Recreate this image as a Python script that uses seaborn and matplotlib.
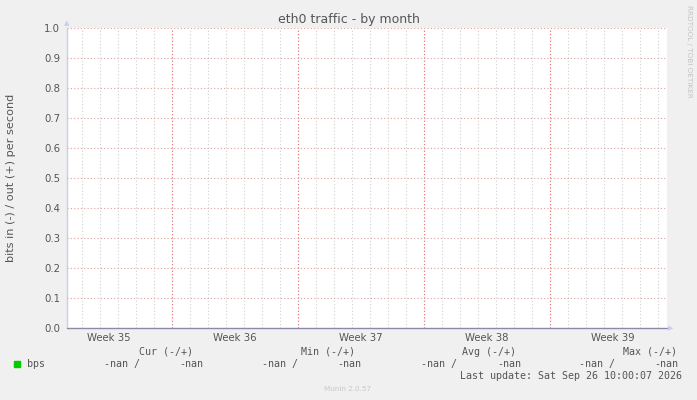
import numpy as np
import pandas as pd
import seaborn as sns
import matplotlib
matplotlib.use("Agg")
import matplotlib.pyplot as plt

# 数据 (全部为 nan)
days = list(range(0, 34))
bps_in = [np.nan] * len(days)
bps_out = [np.nan] * len(days)

week_labels = ["Week 35", "Week 36", "Week 37", "Week 38", "Week 39"]
week_centers = [2.333, 9.333, 16.333, 23.333, 30.333]
week_starts = [5.833, 12.833, 19.833, 26.833]
y_ticks = [0.0, 0.1, 0.2, 0.3, 0.4, 0.5, 0.6, 0.7, 0.8, 0.9, 1.0]

legend_cols = ["Cur (-/+)", "Min (-/+)", "Avg (-/+)", "Max (-/+)"]
legend_vals = ["-nan /", "-nan", "-nan /", "-nan", "-nan /", "-nan", "-nan /", "-nan"]
last_update = "Last update: Sat Sep 26 10:00:07 2026"

df = pd.DataFrame({"day": days, "in": bps_in, "out": bps_out})

sns.set_style("white")
plt.rcParams['font.family'] = ['DejaVu Sans']

W, H = 697, 400
fig = plt.figure(figsize=(W / 100, H / 100), dpi=100, facecolor="#f0f0f0")
ax = fig.add_axes([67 / W, (H - 328) / H, 600 / W, 300 / H])
ax.set_facecolor("white")

# 画数据 (nan, 不可见)
sns.lineplot(data=df, x="day", y="out", ax=ax, color="#00cc00", linewidth=1)
sns.lineplot(data=df, x="day", y="in", ax=ax, color="#00cc00", linewidth=1)
ax.set_xlabel("")
ax.set_ylabel("")

ax.set_xlim(0, 600 / 18)
ax.set_ylim(0, 1.0)

# 网格
minor_days = [d + 0.833 for d in range(0, 34) if d + 0.833 < 600 / 18]
for d in minor_days:
    ax.axvline(d, color="#d0d0d0", linestyle=(0, (1, 2)), linewidth=0.8, zorder=1)
for d in week_starts:
    ax.axvline(d, color="#f07070", linestyle=(0, (1, 2)), linewidth=0.8, zorder=2)
for y in y_ticks[1:]:
    ax.axhline(y, color="#e0a0a0", linestyle=(0, (1, 2)), linewidth=0.8, zorder=2)
ax.axhline(0, color="#8a8aa8", linewidth=1.0, zorder=3, clip_on=False)

ax.set_xticks(week_centers)
ax.set_xticklabels(week_labels)
ax.set_yticks(y_ticks)
ax.set_yticklabels([f"{v:.1f}" for v in y_ticks])
ax.tick_params(axis="both", length=0, labelsize=7.3, labelcolor="#555555", pad=5)
ax.tick_params(axis="x", pad=3.5)

for s in ["top", "right", "bottom"]:
    ax.spines[s].set_visible(False)
ax.spines["left"].set_color("#ccccee")
ax.spines["left"].set_linewidth(1)

# 坐标轴箭头
fig.text(67 / W, 1 - 23 / H, "▲", color="#ccccee", fontsize=5, ha="center", va="center")
fig.text(671 / W, 1 - 328 / H, "▶", color="#ccccee", fontsize=5, ha="center", va="center")

fig.text(349 / W, 1 - 19 / H, "eth0 traffic - by month", ha="center", va="center",
         fontsize=9, color="#555555")
fig.text(11 / W, 1 - 178 / H, "bits in (-) / out (+) per second", rotation=90,
         ha="center", va="center", fontsize=8.1, color="#555555")
fig.text(689 / W, 1 - 5 / H, "RRDTOOL / TOBI OETIKER", rotation=-90, ha="center",
         va="top", fontsize=5.2, color="#c4c4c4")

# 图例
mono = dict(family="DejaVu Sans Mono", fontsize=7.2, color="#555555", va="center")
col_x = [139, 301, 462, 623]
for x, t in zip(col_x, legend_cols):
    fig.text(x / W, 1 - 352 / H, t, ha="left", **mono)
val_x = [104, 179, 262, 337, 421, 497, 579, 654]
for x, t in zip(val_x, legend_vals):
    fig.text(x / W, 1 - 364 / H, t, ha="left", **mono)
fig.patches.append(plt.Rectangle((14 / W, 1 - 367 / H), 6 / W, 6 / H,
                                 transform=fig.transFigure, color="#00cc00"))
fig.text(27 / W, 1 - 364 / H, "bps", ha="left", **mono)
fig.text(682 / W, 1 - 376 / H, last_update, ha="right", **mono)

fig.text(348 / W, 1 - 389 / H, "Munin 2.0.57", ha="center", va="center",
         fontsize=5.2, color="#c8c8c8")

plt.savefig("out.png", dpi=100, facecolor=fig.get_facecolor())
